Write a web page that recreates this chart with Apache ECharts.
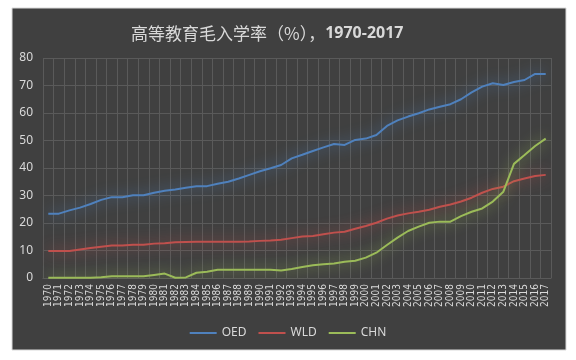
<!DOCTYPE html>
<html><head><meta charset="utf-8">
<script src="https://cdn.jsdelivr.net/npm/echarts@6/dist/echarts.min.js"></script>
<style>html,body{margin:0;padding:0;background:#fff}#c{width:576px;height:360px}</style>
</head><body><div id="c"></div>
<script>
const years = [];
for (let y = 1970; y <= 2017; y++) years.push(String(y));
const OED = [23.4,23.4,24.6,25.6,26.9,28.4,29.4,29.4,30.1,30.1,31.0,31.7,32.2,32.8,33.4,33.4,34.3,35.0,36.2,37.5,38.8,39.9,41.1,43.5,44.8,46.2,47.5,48.7,48.4,50.2,50.7,52.0,55.3,57.3,58.7,59.9,61.3,62.3,63.2,65.0,67.5,69.6,70.8,70.2,71.3,72.0,74.2,74.2];
const WLD = [9.8,9.8,9.8,10.4,10.9,11.4,11.8,11.8,12.1,12.1,12.5,12.6,13.0,13.1,13.2,13.2,13.2,13.2,13.2,13.3,13.5,13.6,13.9,14.5,15.1,15.3,15.9,16.5,16.8,17.9,18.9,20.1,21.6,22.7,23.5,24.1,24.8,25.9,26.7,27.8,29.2,31.0,32.4,33.2,35.2,36.2,37.1,37.5];
const CHN = [0.1,0.1,0.1,0.1,0.1,0.3,0.6,0.6,0.6,0.6,1.1,1.6,0.1,0.2,1.9,2.3,3.0,3.0,3.0,3.0,3.0,3.0,2.7,3.3,4.0,4.6,5.0,5.3,5.9,6.3,7.4,9.2,12.0,14.7,17.1,18.7,20.1,20.5,20.5,22.5,24.1,25.3,27.8,31.4,41.5,44.7,48.0,50.7];
const yTicks = {min: 0, max: 80, interval: 10};
const names = ['OED','WLD','CHN'];
const colors = ['#4f81bd','#c0504d','#9bbb59'];
const chart = echarts.init(document.getElementById('c'), null, {renderer:'canvas'});
const txt = '#d9d9d9';
function mk(name, data, color){
  return {name, type:'line', data, symbol:'none', smooth:false, color,
    lineStyle:{width:2, color, shadowColor:color, shadowBlur:14}};
}
chart.setOption({
  backgroundColor:'#ffffff',
  animation:false,
  graphic:[{type:'rect', z:-10, shape:{x:12,y:8,width:554,height:342},
    style:{fill:'#404040', stroke:'#d9d9d9', lineWidth:1}}],
  title:{text:'{a|高等教育毛入学率（%），}{b|1970-2017}', left:126, top:20,
    textStyle:{rich:{
      a:{color:txt, fontSize:17, fontWeight:'normal', fontFamily:'Noto Sans CJK SC'},
      b:{color:txt, fontSize:16, fontWeight:'bold', fontFamily:'Noto Sans'}}}},
  legend:{data:names, left:'center', top:322, itemWidth:27, itemHeight:2, icon:'rect', itemGap:12,
    textStyle:{color:txt, fontSize:12, fontFamily:'Noto Sans'}},
  grid:{left:43, right:25, top:58, bottom:82, containLabel:false},
  xAxis:{type:'category', data:years, boundaryGap:true,
    axisLine:{show:true, lineStyle:{color:'#5a5a5a'}}, axisTick:{show:false},
    axisLabel:{interval:0, rotate:90, color:txt, fontSize:10, margin:6, fontFamily:'DejaVu Sans Condensed'},
    splitLine:{show:true, interval:0, lineStyle:{color:'#5a5a5a', width:1}}},
  yAxis:{type:'value', min:yTicks.min, max:yTicks.max, interval:yTicks.interval,
    axisLine:{show:false}, axisTick:{show:false},
    axisLabel:{color:txt, fontSize:12, margin:10, fontFamily:'Noto Sans'},
    splitLine:{lineStyle:{color:'#5a5a5a', width:1}}},
  series:[mk('OED',OED,colors[0]), mk('WLD',WLD,colors[1]), mk('CHN',CHN,colors[2])]
});
</script></body></html>
